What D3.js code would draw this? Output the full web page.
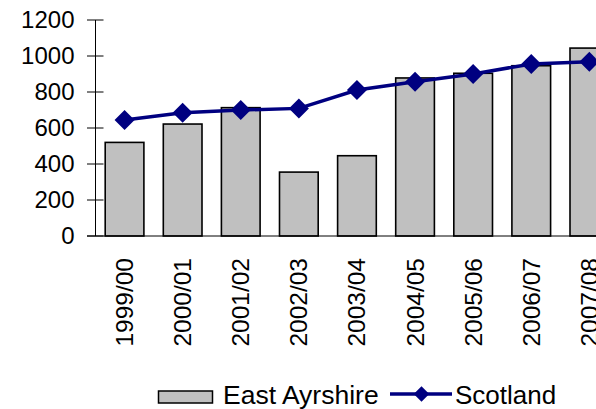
<!DOCTYPE html>
<html>
<head>
<meta charset="utf-8">
<script src="https://cdn.jsdelivr.net/npm/d3@7"></script>
<style>
  body { margin: 0; background: #fff; }
  text { font-family: "Liberation Sans", Arial, sans-serif; fill: #000; }
</style>
</head>
<body>
<svg id="chart" width="596" height="409"></svg>
<script>
var years = ["1999/00", "2000/01", "2001/02", "2002/03", "2003/04", "2004/05", "2005/06", "2006/07", "2007/08"];
var eastAyrshire = [520, 622, 713, 355, 446, 878, 904, 946, 1044];
var scotland = [644, 685, 700, 709, 811, 857, 900, 956, 968];
var yTicks = [0, 200, 400, 600, 800, 1000, 1200];

var svg = d3.select("#chart");

var plotLeft = 95.5, plotTop = 20, plotBottom = 236;
var band = 58.1;

var x = d3.scaleBand()
    .domain(years)
    .range([plotLeft, plotLeft + band * years.length])
    .paddingInner(0.334)
    .paddingOuter(0.167);

var y = d3.scaleLinear().domain([0, 1200]).range([plotBottom, plotTop]);

// bars
svg.selectAll("rect.bar")
    .data(years)
    .enter().append("rect")
    .attr("class", "bar")
    .attr("x", function(d){ return x(d); })
    .attr("y", function(d, i){ return y(eastAyrshire[i]); })
    .attr("width", x.bandwidth())
    .attr("height", function(d, i){ return y(0) - y(eastAyrshire[i]); })
    .style("fill", "#c0c0c0")
    .style("stroke", "#000")
    .style("stroke-width", 1.6);

// y axis
var yAxis = d3.axisLeft(y).tickValues(yTicks).tickSize(0).tickPadding(21)
    .tickFormat(d3.format("d"));
var gy = svg.append("g")
    .attr("transform", "translate(" + plotLeft + ",0)")
    .call(yAxis);
gy.select(".domain").remove();
gy.selectAll("text")
    .style("font-size", "24px")
    .attr("font-family", null);
gy.append("line")
    .attr("x1", 0).attr("x2", 0)
    .attr("y1", y(1200)).attr("y2", y(0))
    .style("stroke", "#000").style("stroke-width", 1);
gy.selectAll("line.tk")
    .data(yTicks)
    .enter().append("line")
    .attr("class", "tk")
    .attr("x1", -8.5).attr("x2", 8)
    .attr("y1", function(d){ return y(d); })
    .attr("y2", function(d){ return y(d); })
    .style("stroke", "#000").style("stroke-width", 1);

// x axis line
svg.append("line")
    .attr("x1", 87).attr("x2", 596)
    .attr("y1", plotBottom).attr("y2", plotBottom)
    .style("stroke", "#000").style("stroke-width", 1);

// x labels
svg.selectAll("text.xl")
    .data(years)
    .enter().append("text")
    .attr("class", "xl")
    .attr("transform", function(d){
        return "translate(" + (x(d) + x.bandwidth() / 2 + 8.5) + ",258) rotate(-90)";
    })
    .attr("text-anchor", "end")
    .style("font-size", "24.5px")
    .text(function(d){ return d; });

// scotland line
var line = d3.line()
    .x(function(d, i){ return x(years[i]) + x.bandwidth() / 2; })
    .y(function(d){ return y(d); });

svg.append("path")
    .datum(scotland)
    .attr("d", line)
    .style("fill", "none")
    .style("stroke", "#000080")
    .style("stroke-width", 3.5);

var diamond = d3.symbol().type(d3.symbolSquare).size(200);
svg.selectAll("path.mk")
    .data(scotland)
    .enter().append("path")
    .attr("class", "mk")
    .attr("d", diamond)
    .attr("transform", function(d, i){
        return "translate(" + (x(years[i]) + x.bandwidth() / 2) + "," + y(d) + ") rotate(45)";
    })
    .style("fill", "#000080");

// legend
var lg = svg.append("g");
lg.append("rect")
    .attr("x", 158.5).attr("y", 391)
    .attr("width", 54).attr("height", 12)
    .style("fill", "#c0c0c0").style("stroke", "#000").style("stroke-width", 1.5);
lg.append("text")
    .attr("x", 223).attr("y", 404)
    .style("font-size", "26.5px")
    .text("East Ayrshire");
lg.append("line")
    .attr("x1", 390).attr("x2", 452)
    .attr("y1", 394).attr("y2", 394)
    .style("stroke", "#000080").style("stroke-width", 3.5);
lg.append("path")
    .attr("d", d3.symbol().type(d3.symbolSquare).size(120))
    .attr("transform", "translate(421.5,394) rotate(45)")
    .style("fill", "#000080");
lg.append("text")
    .attr("x", 455).attr("y", 404)
    .style("font-size", "26px")
    .text("Scotland");
</script>
</body>
</html>
